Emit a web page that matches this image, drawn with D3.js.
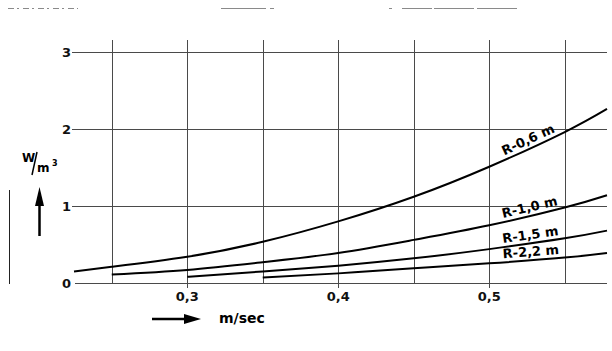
<!DOCTYPE html>
<html lang="en">
<head>
    <meta charset="UTF-8">
    <title>W/m3 against m/sec</title>
    <script src="https://d3js.org/d3.v7.min.js"></script>
    <style>
        body {
            margin: 0;
            background: #fff;
            font-family: "DejaVu Sans", Arial, sans-serif;
        }
        svg {
            display: block;
        }
        .grid line {
            stroke: #4a4a4a;
            stroke-width: 1;
        }
        .tick-label {
            font-weight: bold;
            font-size: 13px;
            fill: #111;
        }
        .curve {
            fill: none;
            stroke: #000;
            stroke-width: 2;
        }
        .curve-label {
            font-weight: bold;
            font-size: 13px;
            fill: #000;
        }
    </style>
</head>
<body>

    <div id="container"></div>

    <script>

        // tick values
        const xGrid = [0.25, 0.3, 0.35, 0.4, 0.45, 0.5, 0.55];
        const xTicks = [0.3, 0.4, 0.5];
        const yTicks = [1, 2, 3];

        // curve labels
        const curveNames = ['R-0,6 m', 'R-1,0 m', 'R-1,5 m', 'R-2,2 m'];

        // speed (m/sec) and load (W/m3)
        const v06 = [0.225, 0.25, 0.3, 0.35, 0.4, 0.45, 0.5, 0.55, 0.578];
        const w06 = [0.15, 0.21, 0.34, 0.535, 0.80, 1.12, 1.51, 1.96, 2.26];

        const v10 = [0.25, 0.3, 0.35, 0.4, 0.45, 0.5, 0.55, 0.578];
        const w10 = [0.11, 0.17, 0.27, 0.39, 0.56, 0.75, 0.98, 1.14];

        const v15 = [0.3, 0.35, 0.4, 0.45, 0.5, 0.55, 0.578];
        const w15 = [0.08, 0.15, 0.225, 0.32, 0.44, 0.58, 0.68];

        const v22 = [0.35, 0.4, 0.45, 0.5, 0.55, 0.578];
        const w22 = [0.07, 0.125, 0.19, 0.255, 0.33, 0.39];

        const series = [
            {name: curveNames[0], v: v06, w: w06},
            {name: curveNames[1], v: v10, w: w10},
            {name: curveNames[2], v: v15, w: w15},
            {name: curveNames[3], v: v22, w: w22}
        ];

        const width = 612;
        const height = 351;

        const svg = d3.select('#container').append('svg')
            .attr('width', width)
            .attr('height', height);

        const x = d3.scaleLinear()
            .domain([0.225, 0.578])
            .range([74, 607]);

        const y = d3.scaleLinear()
            .domain([0, 3])
            .range([283, 52]);

        // scan remnants along the top edge
        const scanMarks = svg.append('g').attr('stroke', '#8a8a8a').attr('stroke-width', 1);
        scanMarks.append('line').attr('x1', 8).attr('x2', 78).attr('y1', 8.5).attr('y2', 8.5)
            .attr('stroke-dasharray', '6,3,2,4');
        scanMarks.append('line').attr('x1', 221).attr('x2', 266).attr('y1', 8.5).attr('y2', 8.5);
        scanMarks.append('line').attr('x1', 270).attr('x2', 274).attr('y1', 8.5).attr('y2', 8.5);
        scanMarks.append('line').attr('x1', 389).attr('x2', 392).attr('y1', 8.5).attr('y2', 8.5);
        scanMarks.append('line').attr('x1', 402).attr('x2', 518).attr('y1', 8.5).attr('y2', 8.5)
            .attr('stroke-dasharray', '30,2,40,3,40');

        // left border line
        svg.append('line')
            .attr('x1', 9.5).attr('x2', 9.5)
            .attr('y1', 190).attr('y2', 284)
            .attr('stroke', '#222')
            .attr('stroke-width', 1);

        const grid = svg.append('g').attr('class', 'grid');

        // vertical grid lines
        grid.selectAll('.vline')
            .data(xGrid)
            .enter()
            .append('line')
            .attr('class', 'vline')
            .attr('x1', d => Math.round(x(d)) + 0.5)
            .attr('x2', d => Math.round(x(d)) + 0.5)
            .attr('y1', y(3) - 12)
            .attr('y2', d => xTicks.includes(d) ? y(0) + 5 : y(0));

        // horizontal grid lines
        grid.selectAll('.hline')
            .data(yTicks)
            .enter()
            .append('line')
            .attr('class', 'hline')
            .attr('x1', 72)
            .attr('x2', 607)
            .attr('y1', d => Math.round(y(d)) + 0.5)
            .attr('y2', d => Math.round(y(d)) + 0.5);

        // zero line
        grid.append('line')
            .attr('x1', 75)
            .attr('x2', 607)
            .attr('y1', Math.round(y(0)) + 0.5)
            .attr('y2', Math.round(y(0)) + 0.5)
            .attr('stroke', '#777')
            .attr('stroke-width', 2);

        // y tick labels
        svg.selectAll('.ylab')
            .data([0].concat(yTicks))
            .enter()
            .append('text')
            .attr('class', 'tick-label')
            .attr('x', 71)
            .attr('y', d => y(d) + 5)
            .attr('text-anchor', 'end')
            .text(d => d);

        // x tick labels
        const fmt = d => d3.format('.1f')(d).replace('.', ',');
        svg.selectAll('.xlab')
            .data(xTicks)
            .enter()
            .append('text')
            .attr('class', 'tick-label')
            .attr('x', d => x(d))
            .attr('y', y(0) + 18)
            .attr('text-anchor', 'middle')
            .text(fmt);

        // curves
        const line = d3.line()
            .x(d => x(d[0]))
            .y(d => y(d[1]))
            .curve(d3.curveNatural);

        series.forEach(s => {
            const pts = s.v.map((v, i) => [v, s.w[i]]);

            svg.append('path')
                .attr('class', 'curve')
                .attr('d', line(pts));

            // label placed along the curve between 0,5 and 0,55
            const lx = 0.528;
            const i = s.v.indexOf(0.5);
            const t = (lx - s.v[i]) / (s.v[i + 1] - s.v[i]);
            const lw = s.w[i] + t * (s.w[i + 1] - s.w[i]);
            const dx = x(s.v[i + 1]) - x(s.v[i]);
            const dy = y(s.w[i + 1]) - y(s.w[i]);
            const angle = Math.atan2(dy, dx) * 180 / Math.PI;

            svg.append('text')
                .attr('class', 'curve-label')
                .attr('text-anchor', 'middle')
                .attr('transform', 'translate(' + x(lx) + ',' + y(lw) + ') rotate(' + angle + ') translate(0,-4)')
                .text(s.name);
        });

        // y axis title W/m3
        const yt = svg.append('g').attr('font-weight', 'bold').attr('fill', '#000');
        yt.append('text').attr('x', 22).attr('y', 162).attr('font-size', 12).text('W');
        yt.append('line')
            .attr('x1', 37).attr('y1', 152).attr('x2', 32).attr('y2', 175)
            .attr('stroke', '#000').attr('stroke-width', 1.5);
        yt.append('text').attr('x', 37).attr('y', 172).attr('font-size', 12).text('m');
        yt.append('text').attr('x', 52).attr('y', 166).attr('font-size', 8).text('3');

        // up arrow
        svg.append('line')
            .attr('x1', 39.5).attr('x2', 39.5)
            .attr('y1', 200).attr('y2', 236)
            .attr('stroke', '#000').attr('stroke-width', 2.5);
        svg.append('path')
            .attr('d', 'M39.5,187 L44,206 L35,206 Z')
            .attr('fill', '#000');

        // x axis title with arrow
        svg.append('line')
            .attr('x1', 152).attr('x2', 186)
            .attr('y1', 319).attr('y2', 319)
            .attr('stroke', '#000').attr('stroke-width', 2.5);
        svg.append('path')
            .attr('d', 'M201,319 L184,314 L184,324 Z')
            .attr('fill', '#000');
        svg.append('text')
            .attr('x', 219)
            .attr('y', 323)
            .attr('font-weight', 'bold')
            .attr('font-size', 14)
            .text('m/sec');

    </script>

</body>
</html>
